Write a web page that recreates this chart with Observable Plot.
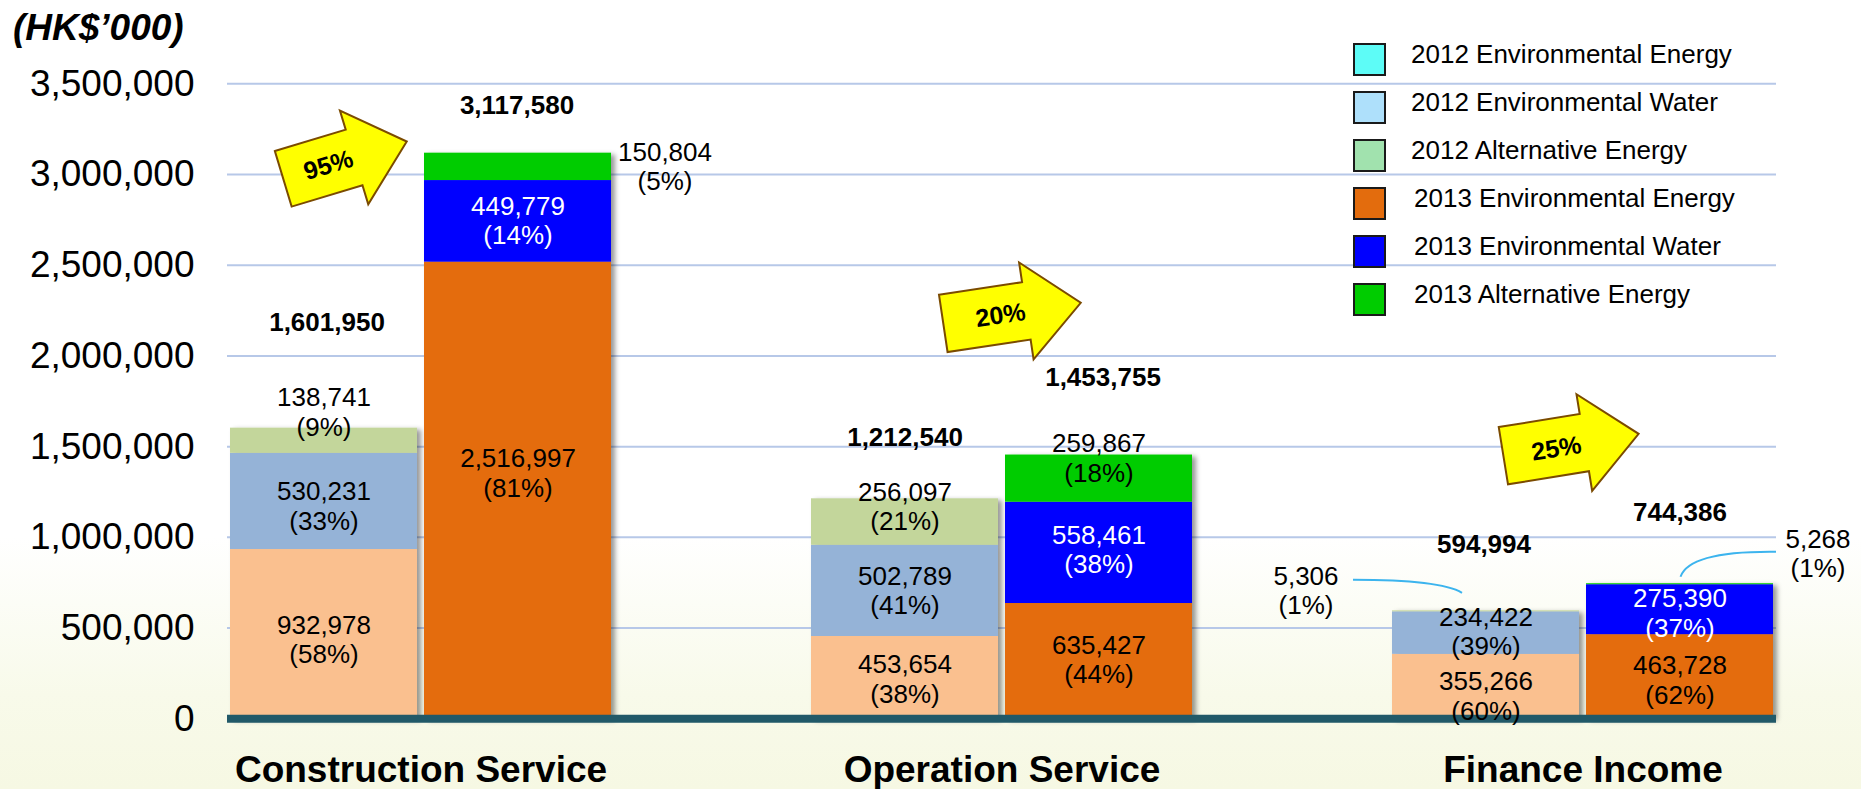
<!DOCTYPE html>
<html>
<head>
<meta charset="utf-8">
<script src="https://cdn.jsdelivr.net/npm/d3@7"></script>
<script src="https://cdn.jsdelivr.net/npm/@observablehq/plot@0.6"></script>
<style>
  html, body { margin: 0; padding: 0; }
  body {
    width: 1861px; height: 789px; overflow: hidden;
    background: linear-gradient(to bottom, #ffffff 0%, #ffffff 68%, #f8faea 88%, #f6f8e3 100%);
    font-family: "Liberation Sans", Arial, Helvetica, sans-serif;
  }
  #wrap { position: relative; width: 1861px; height: 789px; }
  #wrap svg { position: absolute; left: 0; top: 0; }
  #unit { position: absolute; left: 13px; top: 9px; font: italic bold 37px/37px "Liberation Sans", Arial, sans-serif; color: #000; white-space: nowrap; }
  .sw { position: absolute; width: 29px; height: 29px; border: 2px solid #1a1a1a; }
  .lt { position: absolute; font: 26px/26px "Liberation Sans", Arial, sans-serif; color: #000; white-space: nowrap; }
</style>
</head>
<body>
<div id="wrap">
  <div id="unit">(HK$’000)</div>
</div>
<script>
// ---------------- data ----------------
const categories = ["Construction Service", "Operation Service", "Finance Income"];
const seriesNames = ["Environmental Energy", "Environmental Water", "Alternative Energy"];

const envEnergy2012 = [932978, 453654, 355266];
const envWater2012  = [530231, 502789, 234422];
const altEnergy2012 = [138741, 256097, 5306];
const envEnergy2013 = [2516997, 635427, 463728];
const envWater2013  = [449779, 558461, 275390];
const altEnergy2013 = [150804, 259867, 5268];

const pctEnvEnergy2012 = [58, 38, 60];
const pctEnvWater2012  = [33, 41, 39];
const pctAltEnergy2012 = [9, 21, 1];
const pctEnvEnergy2013 = [81, 44, 62];
const pctEnvWater2013  = [14, 38, 37];
const pctAltEnergy2013 = [5, 18, 1];

const total2012 = [1601950, 1212540, 594994];
const total2013 = [3117580, 1453755, 744386];
const growth = ["95%", "20%", "25%"];

const yTicks = [0, 500000, 1000000, 1500000, 2000000, 2500000, 3000000, 3500000];

const legendLabels = ["2012 Environmental Energy", "2012 Environmental Water", "2012 Alternative Energy",
                      "2013 Environmental Energy", "2013 Environmental Water", "2013 Alternative Energy"];
const legendColors = ["#5dfcf7", "#aee0fb", "#a1e2ae", "#e36c0d", "#0000ff", "#00cc00"];

const barKeys = legendLabels;
const barColors = ["#fac08f", "#95b3d7", "#c3d69b", "#e46c0a", "#0000ff", "#00cc00"];

// ---------------- build rows ----------------
function buildRows(year, vals, pcts) {
  const rows = [];
  categories.forEach((c, i) => seriesNames.forEach((s, j) => rows.push({
    year, category: c, series: s, key: year + " " + s, value: vals[j][i], pct: pcts[j][i]
  })));
  return rows;
}
const rows2012 = buildRows("2012", [envEnergy2012, envWater2012, altEnergy2012], [pctEnvEnergy2012, pctEnvWater2012, pctAltEnergy2012]);
const rows2013 = buildRows("2013", [envEnergy2013, envWater2013, altEnergy2013], [pctEnvEnergy2013, pctEnvWater2013, pctAltEnergy2013]);

// ---------------- layout (pixel offsets) ----------------
const FONT = '"Liberation Sans", Arial, Helvetica, sans-serif';
const BAR_OFFSET = 97; // bar centre relative to group centre
const labelLayout = {
  "2012|Construction Service|Environmental Energy": [0, 6],
  "2012|Construction Service|Environmental Water": [0, 5],
  "2012|Construction Service|Alternative Energy": [0, -28],
  "2012|Operation Service|Environmental Energy": [0, 2],
  "2012|Operation Service|Environmental Water": [0, 0],
  "2012|Operation Service|Alternative Energy": [0, -15],
  "2012|Finance Income|Environmental Energy": [0, 10],
  "2012|Finance Income|Environmental Water": [0, -1],
  "2012|Finance Income|Alternative Energy": [-180, -20],
  "2013|Construction Service|Environmental Energy": [0, -17],
  "2013|Construction Service|Environmental Water": [0, 0],
  "2013|Construction Service|Alternative Energy": [147, 0],
  "2013|Operation Service|Environmental Energy": [0, -1],
  "2013|Operation Service|Environmental Water": [0, -3],
  "2013|Operation Service|Alternative Energy": [0, -20],
  "2013|Finance Income|Environmental Energy": [0, 4],
  "2013|Finance Income|Environmental Water": [0, 4],
  "2013|Finance Income|Alternative Energy": [138, -30]
};
const totalLayout = {"2012": [[3, -105], [0, -61], [-2, -66]], "2013": [[-1, -48], [4, -77], [0, -71]]};
const arrowLayout = [
  {angle: -16.8, length: 129, dx: -76, dy: 7, tdx: -92.5, tdy: 12.3},
  {angle: -8.5, length: 139, dx: 10, dy: -142, tdx: -1.5, tdy: -139.5},
  {angle: -9.2, length: 137, dx: -12, dy: -139, tdx: -26.5, tdy: -135}
];

const fmt = d3.format(",");

function valueLabelMarks(rows, year) {
  const sign = year === "2012" ? -1 : 1;
  return rows.map(r => {
    const [odx, ody] = labelLayout[`${r.year}|${r.category}|${r.series}`] || [0, 0];
    return Plot.text(rows, Plot.stackY({
      x: "category", y: "value", z: "series",
      text: d => d === r ? `${fmt(d.value)}\n(${d.pct}%)` : null,
      dx: sign * BAR_OFFSET + odx, dy: ody - 1,
      fill: r.year === "2013" && r.series === "Environmental Water" ? "#ffffff" : "#000000",
      fontSize: 26, lineHeight: 1.13, fontFamily: FONT
    }));
  });
}

function totalMarks(totals, year) {
  const sign = year === "2012" ? -1 : 1;
  return totals.map((t, i) => Plot.text([i], {
    x: j => categories[j], y: j => totals[j], text: j => fmt(totals[j]),
    dx: sign * BAR_OFFSET + totalLayout[year][i][0], dy: totalLayout[year][i][1],
    fontSize: 26, fontWeight: "bold", fill: "#000", fontFamily: FONT
  }));
}

function arrowSymbol(angleDeg, length) {
  const a = angleDeg * Math.PI / 180, c = Math.cos(a), s = Math.sin(a);
  const h = length / 2, sw = 29, hw = 49, hl = 55;
  const pts = [[-h, -sw], [h - hl, -sw], [h - hl, -hw], [h, 0], [h - hl, hw], [h - hl, sw], [-h, sw]];
  return {
    draw(ctx) {
      pts.forEach(([x, y], i) => {
        const X = x * c - y * s, Y = x * s + y * c;
        if (i) ctx.lineTo(X, Y); else ctx.moveTo(X, Y);
      });
      ctx.closePath();
    }
  };
}

function arrowMarks() {
  const marks = [];
  arrowLayout.forEach((L, i) => {
    marks.push(Plot.dot([i], {
      x: j => categories[j], y: j => total2013[j],
      symbol: arrowSymbol(L.angle, L.length), dx: L.dx, dy: L.dy,
      fill: "#ffff00", stroke: "#7b4b00", strokeWidth: 2, strokeLinejoin: "miter"
    }));
    marks.push(Plot.text([i], {
      x: j => categories[j], y: j => total2013[j], text: j => growth[j],
      rotate: L.angle, dx: L.tdx, dy: L.tdy,
      fontSize: 25, fontWeight: "bold", fill: "#000", fontFamily: FONT
    }));
  });
  return marks;
}

// leader lines for the tiny "Alternative Energy" segments of Finance Income
function leaderMark(catIndex, year, midValue, p0, ctrl, p1) {
  return (index, scales) => {
    const xs = scales.x, ys = scales.y;
    const bw = typeof xs.bandwidth === "function" ? xs.bandwidth() : 0;
    const cx = xs(categories[catIndex]) + bw / 2 + (year === "2012" ? -BAR_OFFSET : BAR_OFFSET);
    const cy = ys(midValue);
    const path = document.createElementNS("http://www.w3.org/2000/svg", "path");
    path.setAttribute("d", `M${cx + p0[0]},${cy + p0[1]}Q${cx + ctrl[0]},${cy + ctrl[1]} ${cx + p1[0]},${cy + p1[1]}`);
    path.setAttribute("fill", "none");
    path.setAttribute("stroke", "#3cb4ee");
    path.setAttribute("stroke-width", "2");
    return path;
  };
}

const plot = Plot.plot({
  width: 1861, height: 789,
  marginTop: 83.3, marginBottom: 70.7, marginLeft: 227, marginRight: 85,
  style: {background: "transparent", fontFamily: FONT, color: "#000", overflow: "visible"},
  x: {type: "band", domain: categories, range: [130, 1873], padding: 0, round: false},
  y: {domain: [0, 3500000]},
  color: {domain: barKeys, range: barColors},
  marks: [
    Plot.ruleY(yTicks, {stroke: "#b7c8e8", strokeWidth: 2}),
    Plot.barY(rows2012, {x: "category", y: "value", z: "series", fill: "key", insetLeft: 100, insetRight: 294}),
    Plot.barY(rows2013, {x: "category", y: "value", z: "series", fill: "key", insetLeft: 294, insetRight: 100}),
    Plot.ruleY([0], {stroke: "#215968", strokeWidth: 8}),
    Plot.axisY(yTicks, {tickSize: 0, tickPadding: 33, tickFormat: fmt, fontSize: 37, label: null, fill: "#000", fontFamily: FONT}),
    Plot.axisX({tickSize: 0, tickPadding: 37.1, fontSize: 37, fontWeight: "bold", label: null, fill: "#000", fontFamily: FONT}),
    leaderMark(2, "2012", envEnergy2012[2] + envWater2012[2] + altEnergy2012[2] / 2, [-132.5, -31], [-45, -31], [-23.5, -18]),
    leaderMark(2, "2013", envEnergy2013[2] + envWater2013[2] + altEnergy2013[2] / 2, [96.5, -32], [10, -33], [1, -7]),
    ...valueLabelMarks(rows2012, "2012"),
    ...valueLabelMarks(rows2013, "2013"),
    ...totalMarks(total2012, "2012"),
    ...totalMarks(total2013, "2013"),
    ...arrowMarks()
  ]
});

// soft drop shadow on the bars
const svgSel = d3.select(plot);
const filter = svgSel.insert("defs", ":first-child").append("filter")
  .attr("id", "barShadow").attr("x", "-5%").attr("y", "-5%").attr("width", "115%").attr("height", "115%");
filter.append("feDropShadow").attr("dx", 4).attr("dy", 2).attr("stdDeviation", 2.5)
  .attr("flood-color", "#000").attr("flood-opacity", 0.4);
svgSel.selectAll('g[aria-label="bar"]').attr("filter", "url(#barShadow)");

const wrap = document.getElementById("wrap");
wrap.insertBefore(plot, wrap.firstChild);

// legend
legendLabels.forEach((lab, i) => {
  const top = 43 + i * 48;
  const sw = document.createElement("div");
  sw.className = "sw";
  sw.style.left = "1353px";
  sw.style.top = top + "px";
  sw.style.background = legendColors[i];
  wrap.appendChild(sw);
  const t = document.createElement("div");
  t.className = "lt";
  t.style.left = (i < 3 ? 1411 : 1414) + "px";
  t.style.top = (top - 2) + "px";
  t.textContent = lab;
  wrap.appendChild(t);
});
</script>
</body>
</html>
